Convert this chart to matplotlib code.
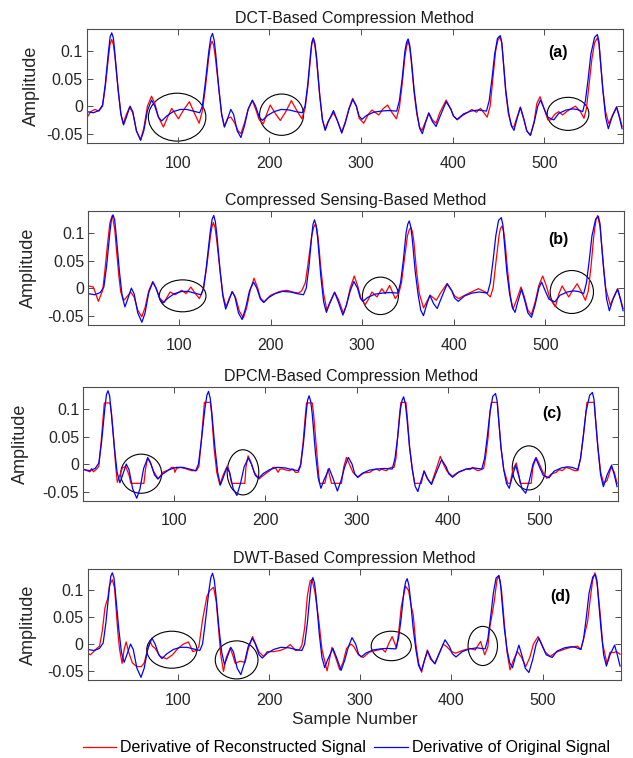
"""
Derivative of original vs reconstructed ECG signal for four compression methods
"""

import matplotlib
matplotlib.use("Agg")
import matplotlib.pyplot as plt
from matplotlib.patches import Ellipse
from matplotlib.lines import Line2D

plt.rcParams['font.family'] = ['Liberation Sans', 'DejaVu Sans']

# Derivative of original signal (same for every panel), sample number / amplitude
orig_x = [1, 8, 14, 18, 21, 24.5, 26.3, 28, 29.8, 31.5, 35, 38, 41, 44, 48, 51, 55, 59.5, 63, 67,
          71.5, 75, 79, 82.5, 88, 95, 103, 110, 117, 124, 127, 130, 134, 136.2, 138, 139.8, 141.5,
          145, 148, 151, 154, 158, 161, 165, 169, 173, 177, 181.5, 185, 189, 192.5, 198, 205, 213,
          222, 229, 236, 239, 242, 245, 246.4, 248, 249.8, 251.5, 255, 258, 261, 264, 270, 274,
          279, 283, 287, 291, 295, 298, 301, 306, 314, 322, 330, 339, 342, 345, 348, 349.8, 351.5,
          353.3, 355, 358, 361, 364, 367, 370.5, 374, 378, 382, 386, 393, 398, 401, 405, 412, 420,
          428, 437, 440, 443, 446, 449, 452, 453.7, 455, 458, 461, 464, 467, 470, 474, 478, 481,
          485, 489, 493, 496, 500, 504, 510.5, 516, 524, 531, 536, 542, 545, 548, 551, 555, 558,
          559.7, 561, 564, 567, 570, 574, 579, 582, 585]
orig_y = [-0.010, -0.012, -0.008, 0.002, 0.04, 0.10, 0.126, 0.133, 0.124, 0.095, 0.03, -0.015,
          -0.034, -0.02, 0.0, -0.01, -0.045, -0.062, -0.045, -0.008, 0.011, 0.0, -0.02, -0.027,
          -0.018, -0.01, -0.006, -0.006, -0.009, -0.012, 0.0, 0.04, 0.10, 0.125, 0.132, 0.12,
          0.095, 0.03, -0.015, -0.038, -0.025, -0.006, -0.015, -0.045, -0.057, -0.035, -0.005,
          0.011, 0.0, -0.02, -0.026, -0.017, -0.01, -0.006, -0.007, -0.01, -0.012, 0.0, 0.04,
          0.095, 0.116, 0.124, 0.114, 0.09, 0.02, -0.025, -0.044, -0.03, -0.008, -0.025, -0.049,
          -0.03, -0.005, 0.012, 0.0, -0.018, -0.024, -0.017, -0.011, -0.009, -0.008, -0.009, 0.01,
          0.05, 0.10, 0.116, 0.122, 0.11, 0.085, 0.03, -0.01, -0.04, -0.05, -0.03, -0.013, -0.028,
          -0.037, -0.02, 0.008, -0.005, -0.018, -0.024, -0.014, -0.009, -0.007, -0.009, 0.01,
          0.05, 0.095, 0.123, 0.128, 0.115, 0.09, 0.03, -0.01, -0.035, -0.044, -0.025, -0.002,
          -0.025, -0.045, -0.053, -0.03, 0.0, 0.011, -0.005, -0.02, -0.025, -0.013, -0.007,
          -0.005, -0.006, -0.01, 0.01, 0.05, 0.095, 0.125, 0.130, 0.118, 0.09, 0.03, -0.02,
          -0.041, -0.02, -0.002, -0.02, -0.041]

# Reconstructed derivatives
dct_x = [1, 5, 9.7, 14, 18, 21, 24.5, 26.2, 28, 29.8, 31.5, 35, 38, 40.5, 44, 47.5, 51, 55, 59.5,
         63, 67, 71.5, 75, 79, 84.4, 89, 93.5, 97, 100.8, 106, 112.8, 118, 123.4, 127, 130, 134,
         135.7, 137.5, 139.3, 141, 145, 148, 151, 154.5, 158, 162, 166, 169, 173, 177, 181.5, 185,
         189, 193.5, 197, 201, 206, 212, 218, 224, 230, 235.5, 239, 242, 245, 246.3, 248, 249.8,
         251.5, 255, 258, 261, 264, 270, 274, 279, 283, 287, 291, 295, 298, 303, 308, 312, 316,
         319.5, 324, 329, 334, 338.7, 342, 345, 348, 349.8, 351.5, 353.3, 355, 358, 361, 364,
         366.5, 370.5, 374, 378, 382, 386, 393, 398, 401, 405, 411, 416, 421, 426, 430.5, 437.8,
         441, 444, 447, 449.5, 452, 453.7, 455, 458, 461, 465, 467, 470, 474, 478, 481, 485, 489,
         492, 495.5, 500, 504, 507, 512, 516, 520, 524.5, 529, 534, 539.6, 543.4, 546, 549, 552,
         555, 558, 559.8, 561, 564, 567, 570.5, 575, 579, 582, 585]
dct_y = [-0.021, -0.010, -0.006, -0.009, 0.0, 0.035, 0.09, 0.113, 0.121, 0.112, 0.09, 0.03, -0.013,
         -0.032, -0.015, -0.002, -0.012, -0.045, -0.061, -0.04, 0.0, 0.018, 0.005, -0.02, -0.038,
         -0.02, -0.004, -0.013, -0.023, -0.008, 0.008, -0.012, -0.031, -0.008, 0.03, 0.09, 0.11,
         0.118, 0.11, 0.09, 0.03, -0.015, -0.037, -0.022, -0.02, -0.03, -0.045, -0.05, -0.03,
         -0.005, 0.010, -0.005, -0.025, -0.032, -0.015, 0.002, -0.012, -0.026, -0.01, 0.010,
         -0.008, -0.023, -0.005, 0.035, 0.09, 0.112, 0.121, 0.11, 0.085, 0.02, -0.025, -0.042,
         -0.028, -0.012, -0.025, -0.047, -0.028, -0.004, 0.014, 0.0, -0.022, -0.031, -0.015,
         -0.007, -0.012, -0.016, -0.005, 0.002, -0.012, -0.023, -0.002, 0.04, 0.09, 0.108, 0.118,
         0.106, 0.08, 0.025, -0.015, -0.038, -0.044, -0.028, -0.012, -0.025, -0.031, -0.012,
         0.011, -0.005, -0.018, -0.025, -0.017, -0.012, -0.006, -0.011, -0.004, -0.020, 0.0,
         0.05, 0.10, 0.12, 0.126, 0.115, 0.09, 0.025, -0.015, -0.038, -0.037, -0.022, -0.002,
         -0.025, -0.045, -0.053, -0.028, 0.005, 0.017, -0.005, -0.025, -0.025, -0.014, -0.010,
         -0.016, -0.010, -0.005, 0.0, -0.010, -0.022, -0.005, 0.04, 0.085, 0.115, 0.124, 0.113,
         0.09, 0.03, -0.01, -0.032, -0.015, -0.001, -0.018, -0.037]

cs_x = [1, 6.5, 12, 16.7, 19, 21.8, 24.5, 27.2, 30, 32, 34.5, 36.4, 40, 44, 47.3, 51, 55, 59.4,
        63, 67, 71.4, 75, 79, 83.7, 90.3, 95.8, 103, 107.8, 112.9, 118, 122.3, 126, 130, 134,
        135.8, 137.6, 139.4, 141, 145, 148, 151.5, 155, 158.4, 162, 166, 170.4, 174, 178, 182,
        186, 189, 193, 200, 210, 218, 224, 230.5, 234, 238, 241, 245, 247, 248.8, 250.5, 252, 255,
        258, 261.5, 265, 269.9, 274, 279.7, 283, 287, 291.4, 295, 299, 303.4, 307, 310.7, 316.2,
        321.6, 325.3, 330, 336.2, 340, 343, 346, 349.5, 351.5, 353.3, 355, 356.5, 359.5, 362.5,
        367.1, 370.5, 374.4, 378, 381, 386, 392.7, 398, 401, 405.4, 412, 418, 427, 434.5, 440,
        443, 446, 449.5, 451, 452.8, 454.5, 456, 459, 462, 464.8, 469, 473.5, 477, 481, 484.8,
        489, 493, 497.2, 501, 505, 511, 514.5, 518.4, 522, 525.6, 530, 534.8, 539, 543.8, 547,
        550, 553, 555.5, 557.3, 560, 563, 566, 571, 575, 579, 582, 585]
cs_y = [0.004, 0.002, -0.024, -0.004, 0.03, 0.077, 0.118, 0.132, 0.105, 0.065, 0.02, -0.007,
        -0.022, -0.014, -0.007, -0.016, -0.04, -0.052, -0.035, -0.005, 0.012, 0.0, -0.018,
        -0.026, -0.007, -0.012, -0.004, -0.010, 0.002, -0.01, -0.019, -0.005, 0.035, 0.09, 0.11,
        0.119, 0.11, 0.09, 0.03, -0.012, -0.034, -0.018, -0.007, -0.018, -0.042, -0.054, -0.035,
        -0.002, 0.018, 0.0, -0.018, -0.025, -0.013, -0.006, -0.004, -0.007, -0.009, -0.005, 0.01,
        0.045, 0.095, 0.11, 0.116, 0.108, 0.09, 0.035, -0.01, -0.040, -0.025, -0.007, -0.02,
        -0.046, -0.03, 0.0, 0.022, 0.005, -0.02, -0.030, -0.02, -0.007, -0.016, -0.001, -0.010,
        0.005, -0.019, -0.01, 0.01, 0.05, 0.095, 0.106, 0.11, 0.102, 0.085, 0.03, -0.01, -0.036,
        -0.025, -0.013, -0.018, -0.022, -0.008, 0.008, -0.005, -0.014, -0.019, -0.013, -0.008,
        -0.001, -0.007, -0.016, 0.0, 0.045, 0.095, 0.108, 0.113, 0.104, 0.085, 0.03, -0.015,
        -0.038, -0.02, 0.002, -0.015, -0.04, -0.048, -0.025, 0.005, 0.022, 0.005, -0.018, -0.034,
        -0.012, 0.004, -0.006, -0.016, -0.004, 0.008, -0.005, -0.022, -0.005, 0.04, 0.095, 0.125,
        0.132, 0.11, 0.05, 0.0, -0.031, -0.015, -0.001, -0.018, -0.037]

dpcm_x = [1, 5, 8.3, 10, 12, 15, 18, 20.5, 23, 24, 30.2, 32, 34.5, 36.5, 38.2, 41, 44, 47.5, 51,
          53.1, 67.3, 69, 71.4, 74, 77.5, 83, 88, 92.1, 95, 97.6, 100, 101.2, 103, 106.7, 112,
          119.5, 124.9, 127.5, 130, 132.5, 133.5, 140, 141.5, 144, 147, 150.4, 154, 158.8, 161,
          163.2, 177.7, 179, 181.3, 184, 188, 193.3, 200, 205, 208.7, 211, 214.1, 216, 219.6, 223,
          226.9, 229, 230.5, 233, 236, 238.5, 241.5, 244, 245.2, 251.5, 253, 255.5, 258, 259.5,
          265.2, 268.8, 272.5, 283.4, 286, 288.9, 292, 296, 301.5, 308, 314.3, 318, 321.6, 325,
          327.1, 330, 332.6, 335, 338, 341, 343, 345, 347, 348.5, 354, 355.5, 358, 361, 363.5,
          370.8, 373.7, 377, 381.7, 386, 391.6, 395, 399, 404.7, 410, 416.3, 420, 424, 427.2, 430,
          432.7, 436.4, 439, 441, 444, 446, 447.5, 454, 455, 458, 461, 465.5, 468, 471, 474.7, 477,
          479, 491, 493, 496.5, 500, 504, 508.1, 513, 518.4, 522, 525, 529.3, 533, 538.4, 542, 545,
          548, 551, 552, 560, 561, 564, 567, 570.4, 574, 578.5, 582, 585]
dpcm_y = [-0.009, -0.012, -0.014, -0.008, -0.014, -0.01, -0.004, 0.04, 0.09, 0.111, 0.111, 0.09,
          0.04, -0.005, -0.033, -0.02, -0.006, -0.005, -0.02, -0.035, -0.035, -0.01, 0.012, 0.005,
          -0.012, -0.027, -0.015, -0.012, -0.01, -0.006, -0.006, -0.015, -0.008, -0.006, -0.008,
          -0.012, -0.012, -0.004, 0.04, 0.09, 0.112, 0.112, 0.09, 0.03, -0.015, -0.038, -0.02,
          -0.003, -0.015, -0.035, -0.035, -0.005, 0.015, 0.005, -0.015, -0.027, -0.018, -0.012,
          -0.006, -0.006, -0.015, -0.009, -0.009, -0.011, -0.012, -0.009, -0.009, -0.015, -0.015,
          -0.005, 0.04, 0.09, 0.111, 0.111, 0.09, 0.04, -0.01, -0.035, -0.035, -0.009, -0.035,
          -0.035, -0.005, 0.012, 0.0, -0.015, -0.024, -0.016, -0.015, -0.011, -0.009, -0.012,
          -0.009, -0.011, -0.012, -0.008, -0.006, -0.006, 0.01, 0.05, 0.09, 0.112, 0.112, 0.085,
          0.03, -0.01, -0.035, -0.035, -0.012, -0.025, -0.036, -0.015, 0.014, 0.0, -0.013, -0.022,
          -0.016, -0.012, -0.009, -0.01, -0.006, -0.01, -0.012, -0.010, -0.008, 0.01, 0.05, 0.095,
          0.112, 0.112, 0.09, 0.03, -0.01, -0.035, -0.035, -0.01, 0.002, -0.015, -0.035, -0.035,
          -0.005, 0.012, 0.0, -0.015, -0.026, -0.018, -0.015, -0.01, -0.012, -0.006, -0.008,
          -0.012, -0.012, 0.01, 0.05, 0.095, 0.112, 0.112, 0.09, 0.03, -0.015, -0.035, -0.03,
          -0.006, -0.015, -0.035]

dwt_x = [1, 4, 7, 11, 14, 17, 20, 21.5, 23, 25, 28, 30.5, 34, 36, 38.8, 41, 43.2, 46, 50, 54.8,
         60, 63, 66, 69.5, 72, 75, 80.5, 87.8, 94, 100, 106, 111.5, 116.3, 120, 123, 127, 131.8,
         135, 139.1, 142, 144.5, 147, 150, 153, 157.4, 160, 162.9, 168, 173.7, 177, 181.9, 186,
         189, 194, 198, 205, 212, 218, 223, 226, 229, 233, 236, 239, 242, 245, 247, 250, 254.4,
         258, 263.6, 266, 269, 273, 277.5, 281, 285, 290, 293, 298, 303.2, 310, 316, 324, 327.5,
         331, 335, 339.8, 342, 345, 349.7, 353, 356, 358.1, 361, 364, 367.3, 370.5, 373.5, 377,
         381.6, 386, 391, 395, 400, 404.6, 412, 420, 426, 432, 436.5, 440, 442, 444.9, 447, 450,
         452.2, 455, 458, 461, 464.3, 468, 472.4, 477, 481.5, 486, 490, 495, 499, 503, 508.3, 515,
         525, 533, 538.4, 542, 545, 549.4, 552, 555, 557.4, 560, 563, 566, 570.6, 574, 578, 581,
         585]
dwt_y = [-0.017, -0.02, -0.015, -0.008, -0.004, 0.024, 0.068, 0.077, 0.085, 0.11, 0.12, 0.105,
         0.024, -0.01, -0.036, -0.01, 0.004, -0.015, -0.035, -0.042, -0.042, -0.035, -0.015,
         0.005, -0.004, -0.008, -0.023, -0.0275, -0.02, -0.008, 0.0, 0.004, -0.014, -0.012,
         -0.005, 0.045, 0.089, 0.1, 0.106, 0.08, 0.03, -0.02, -0.051, -0.025, -0.0075, -0.02,
         -0.036, -0.032, -0.034, -0.01, 0.014, -0.003, -0.015, -0.023, -0.014, -0.014, -0.012,
         -0.008, -0.001, -0.006, -0.012, -0.011, -0.002, 0.03, 0.09, 0.118, 0.12, 0.1, 0.046,
         -0.01, -0.05, -0.03, -0.006, -0.025, -0.048, -0.035, -0.008, 0.0, -0.005, -0.02, -0.025,
         -0.015, -0.0125, -0.009, -0.015, 0.0, 0.014, -0.0075, 0.02, 0.07, 0.108, 0.1, 0.07,
         0.055, 0.0, -0.035, -0.0525, -0.03, -0.011, -0.028, -0.036, -0.02, 0.0, -0.005, -0.014,
         -0.017, -0.012, -0.008, -0.011, 0.005, -0.02, -0.005, 0.03, 0.058, 0.08, 0.12, 0.127,
         0.1, 0.04, -0.015, -0.048, -0.03, -0.014, -0.025, -0.042, -0.025, 0.0, 0.014, 0.0,
         -0.015, -0.023, -0.015, -0.009, -0.005, -0.004, -0.01, 0.01, 0.042, 0.08, 0.12, 0.133,
         0.11, 0.06, 0.0, -0.036, -0.015, -0.016, -0.014, -0.019]

titles = ["DCT-Based Compression Method", "Compressed Sensing-Based Method",
          "DPCM-Based Compression Method", "DWT-Based Compression Method"]
panel_tags = ["(a)", "(b)", "(c)", "(d)"]
recon_x = [dct_x, cs_x, dpcm_x, dwt_x]
recon_y = [dct_y, cs_y, dpcm_y, dwt_y]

# highlighted regions: (centre sample, centre amplitude, width, height)
ellipses = [
    [(99.4, -0.020, 62.7, 0.087), (213.4, -0.0155, 48, 0.075), (526, -0.014, 45.5, 0.060)],
    [(104, -0.014, 51, 0.058), (320, -0.014, 39.3, 0.068), (529, -0.007, 47.3, 0.078)],
    [(64.3, -0.0175, 44.8, 0.071), (175.7, -0.015, 34.6, 0.082), (488.5, -0.007, 36.4, 0.080)],
    [(93.3, -0.0105, 55, 0.069), (164.4, -0.0295, 46.9, 0.071), (334, -0.0035, 44, 0.055),
     (434.4, -0.0035, 32.3, 0.073)],
]

# axes boxes in figure fractions [left, bottom, width, height]
boxes = [[0.1374, 0.8113, 0.8468, 0.1504],
         [0.1395, 0.5712, 0.8463, 0.1504],
         [0.1316, 0.3391, 0.8447, 0.1504],
         [0.1385, 0.1029, 0.8425, 0.1464]]
ylabel_x = [-0.0877, -0.0967, -0.1025, -0.096]
tag_pos = [(515, 0.097), (514, 0.089), (514, 0.091), (519, 0.089)]

fig = plt.figure(figsize=(6.33, 7.58), dpi=100)

for i in range(4):
    ax = fig.add_axes(boxes[i])
    ax.plot(recon_x[i], recon_y[i], color='#ff0000', lw=0.9)
    ax.plot(orig_x, orig_y, color='#0000ff', lw=0.9)
    for (cx, cy, w, h) in ellipses[i]:
        ax.add_patch(Ellipse((cx, cy), w, h, fill=False, edgecolor='black', lw=0.8))
    ax.text(tag_pos[i][0], tag_pos[i][1], panel_tags[i], fontsize=11.5, fontweight='bold',
            ha='center', va='center')
    ax.set_xlim(1, 586)
    ax.set_ylim(-0.067, 0.14)
    ax.set_xticks([100, 200, 300, 400, 500])
    ax.set_yticks([-0.05, 0, 0.05, 0.1])
    ax.set_yticklabels(['-0.05', '0', '0.05', '0.1'])
    ax.tick_params(direction='in', top=True, right=True, length=4, width=0.7,
                   labelsize=11.5, colors='#4d4d4d', labelcolor='#262626')
    ax.tick_params(axis='x', pad=9)
    ax.tick_params(axis='y', pad=3)
    for sp in ax.spines.values():
        sp.set_color('#4d4d4d')
        sp.set_linewidth(0.8)
    ax.set_title(titles[i], fontsize=11.5, pad=4.5, color='#1a1a1a')
    ax.set_ylabel('Amplitude', fontsize=13, color='#262626')
    ax.yaxis.set_label_coords(ylabel_x[i], 0.5)
    if i == 3:
        ax.set_xlabel('Sample Number', fontsize=12.5, color='#262626', labelpad=3)

handles = [Line2D([], [], color='#ff0000', lw=0.9), Line2D([], [], color='#0000ff', lw=0.9)]
fig.legend(handles, ['Derivative of Reconstructed Signal', 'Derivative of Original Signal'],
           loc='center', bbox_to_anchor=(0.547, 0.0132), ncol=2, frameon=False, fontsize=11.5,
           handlelength=2.1, handletextpad=0.25, columnspacing=0.5)

fig.savefig('out.png', dpi=100)
